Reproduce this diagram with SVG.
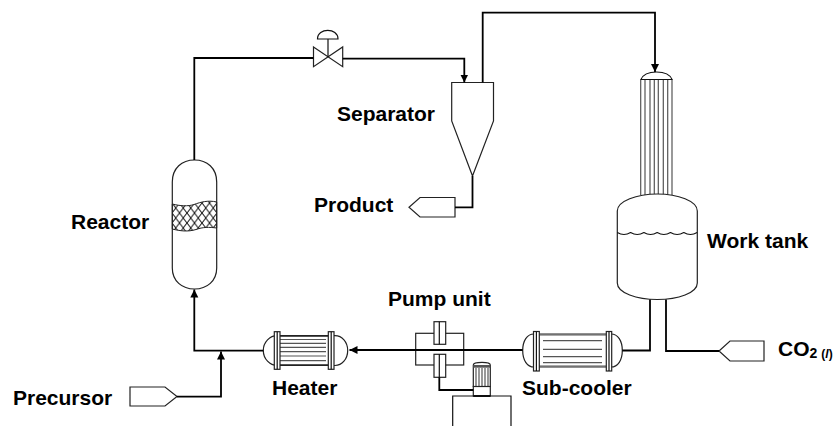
<svg xmlns="http://www.w3.org/2000/svg" width="835" height="426" viewBox="0 0 835 426">
<style>
.s{fill:none;stroke:#111;stroke-width:1.2}
.t{fill:#fff;stroke:#222;stroke-width:1.2}
.g{fill:none;stroke:#555;stroke-width:1.2}
.c{fill:none;stroke:#000;stroke-width:1.8}
.l{font-family:"Liberation Sans",Arial,sans-serif;font-weight:700;font-size:21px;fill:#000}
</style>
<defs>
<marker id="a" markerUnits="userSpaceOnUse" markerWidth="10" markerHeight="10" refX="8" refY="4" orient="auto"><path d="M0 0L8 4L0 8Z" fill="#000"/></marker>
<pattern id="h" width="7.500" height="10" patternUnits="userSpaceOnUse" x="172" y="203"><path d="M0 0L7.500 10M7.500 0L0 10" stroke="#111" stroke-width="1"/></pattern>
</defs>
<g id="reactor">
<path class="t" d="M172.300 182C172.300 168 182 160 194.500 160C207 160 216.700 168 216.700 182V268C216.700 281 207 289 194.500 289C182 289 172.300 281 172.300 268Z"/>
<path d="M172.300 204C180 206 188 206.500 194 204.500C201 202 208 200 216.700 202V228C209 227 203 227 196 229.500C188 232 180 231 172.300 229Z" fill="url(#h)" stroke="#222" stroke-width="1"/>
</g>
<g id="valve">
<path class="t" d="M313.500 47L342.700 66.700V47L313.500 66.700Z"/>
<path class="s" d="M328 57V39"/>
<path class="s" d="M317.500 39C317.500 27.500 338 27.500 338 39Z"/>
</g>
<g id="separator">
<path class="t" d="M451.700 82.500H493.500V121L472.500 176L451.700 121Z"/>
</g>
<g id="product">
<path class="t" d="M455 197.500V217H420L409 207.300L420 197.500Z"/>
</g>
<g id="work-tank">
<path class="g" d="M640.700 79.500V195M645 79.500V195M650 79.500V195M654.300 79.500V195M658.300 79.500V195M663.300 79.500V195M667.700 79.500V195M672 79.500V195"/>
<path class="s" d="M641 79.500C643 74.500 649 72 656.500 72C664 72 670 74.500 672 79.500Z"/>
<path class="t" d="M617.300 211C617.300 201 637 194 657.300 194C678 194 697.300 201 697.300 211V283C697.300 293 678 299.500 657.300 299.500C637 299.500 617.300 293 617.300 283Z"/>
<path class="s" d="M617.300 232.500q6.650 4 13.300 0M630.600 232.500q6.650 4 13.300 0M643.900 232.500q6.650 4 13.300 0M657.200 232.500q6.650 4 13.300 0M670.500 232.500q6.650 4 13.300 0M683.800 232.500q6.650 4 13.300 0"/>
</g>
<g id="sub-cooler">
<path class="t" d="M534 334H611C618 334 622.300 341 622.300 350.500C622.300 360 618 367 611 367H534C527 367 522.700 360 522.700 350.500C522.700 341 527 334 534 334Z"/>
<path class="g" d="M539 335H606M539 366H606M543 340.700H602M543 349.300H602M543 356.700H602M543 362.700H602"/>
<rect class="t" x="533.500" y="331.500" width="5.800" height="39.500"/>
<rect class="t" x="606.300" y="331.500" width="5.400" height="39.500"/>
<path class="s" d="M536.400 331.500V371M609 331.500V371"/>
</g>
<g id="heater">
<path class="t" d="M277 335.700H335C342 335.700 347.700 342 347.700 350.500C347.700 359 342 365.500 335 365.500H277C270 365.500 263.300 359 263.300 350.500C263.300 342 270 335.700 277 335.700Z"/>
<path class="g" d="M280 336.500H328M280 364.500H328M280 339.500H326M280 343.300H326M280 347.300H326M280 351.700H326M280 356H326M280 360.700H326"/>
<rect class="t" x="274.300" y="331.700" width="5.700" height="37.600"/>
<rect class="t" x="328.300" y="331.700" width="5.700" height="37.600"/>
<path class="s" d="M277.200 331.700V369.300M331.200 331.700V369.300"/>
</g>
<g id="pump-unit">
<rect class="t" x="415.700" y="333.300" width="48" height="31.700"/>
<rect class="t" x="434" y="321.700" width="11.700" height="22.600"/>
<rect class="t" x="434" y="354.300" width="11.700" height="23"/>
<path class="s" d="M439.300 321.700V344.300M439.300 354.300V377.300"/>
</g>
<g id="motor">
<path class="t" d="M473.300 365C473.300 363 476 362.300 482 362.300C487 362.300 490.300 363 490.300 365V386.500H473.300Z"/>
<path class="g" d="M476 368V386M479 368V386M482 368V386M485 368V386M488 368V386"/>
<rect x="473.300" y="365" width="17" height="2.700" fill="#555"/>
<rect class="t" x="473.300" y="386.500" width="17" height="9.500"/>
<path class="c" d="M473.300 396H490.300"/>
<path class="s" d="M452.700 426V396H511V426"/>
</g>
<g id="co2-source">
<path class="t" d="M764 341V361H730L719 351L730 341Z"/>
</g>
<g id="precursor">
<path class="t" d="M130 387H165L177 396.500L165 406H130Z"/>
</g>
<g id="connectors">
<path class="c" d="M194.300 160V58H313.500"/>
<path class="c" d="M342.700 58.700H464.300V82.500" marker-end="url(#a)"/>
<path class="c" d="M482.700 82.500V12.700H655V72" marker-end="url(#a)"/>
<path class="c" d="M472.500 176V207.300H455"/>
<path class="c" d="M263.300 350.700H194.300V289.500" marker-end="url(#a)"/>
<path class="c" d="M177 396.700H221V351.500" marker-end="url(#a)"/>
<path class="c" d="M522.700 350H349.500" marker-end="url(#a)"/>
<path class="c" d="M622.300 350.500H650V299.500"/>
<path class="c" d="M666 299.500V351H719"/>
<path class="c" d="M439.300 377.300V390H473.300"/>
</g>
<g id="labels">
<text class="l" x="337" y="120.500">Separator</text>
<text class="l" x="314" y="211.500">Product</text>
<text class="l" x="71" y="228.500">Reactor</text>
<text class="l" x="707" y="247.500">Work tank</text>
<text class="l" x="388" y="305.500">Pump unit</text>
<text class="l" x="272" y="395">Heater</text>
<text class="l" x="522" y="394.500">Sub-cooler</text>
<text class="l" x="13" y="404.500">Precursor</text>
<text class="l" x="778" y="356">CO<tspan font-size="14" dy="2">2</tspan><tspan font-size="12" dx="4">(</tspan><tspan font-size="12" font-style="italic">l</tspan><tspan font-size="12">)</tspan></text>
</g>
</svg>
